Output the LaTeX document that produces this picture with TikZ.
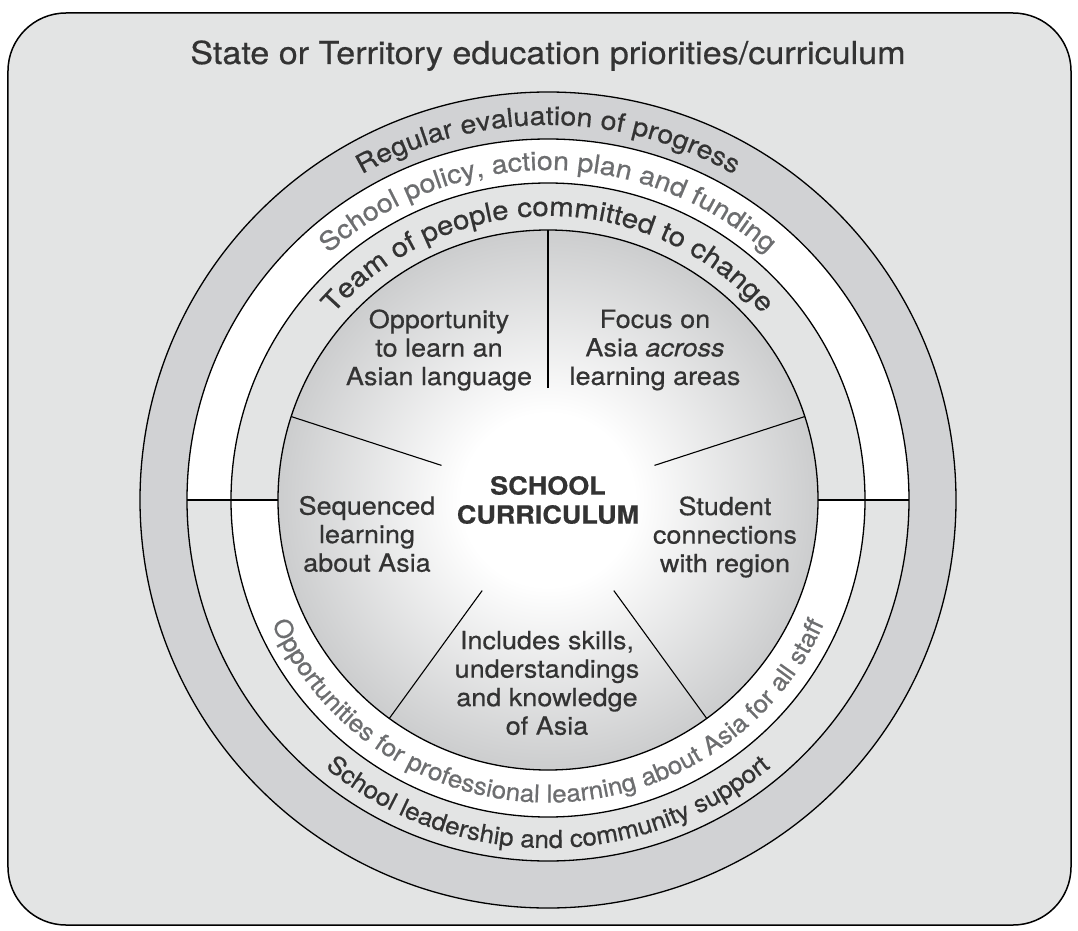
\documentclass[tikz,border=0pt]{standalone}
\usepackage{fontspec}
\setmainfont{TeX Gyre Heros}[FakeStretch=1.08, FakeBold=0.5]
\newfontfamily\topfam{TeX Gyre Heros}[FakeStretch=1.1, FakeBold=0.5]
\newfontfamily\botfam{TeX Gyre Heros}[FakeStretch=1.06, FakeBold=0.5]
\usetikzlibrary{decorations.text}
\definecolor{bgc}{RGB}{227,228,228}
\definecolor{ringc}{RGB}{209,210,212}
\definecolor{darktxt}{RGB}{51,51,51}
\definecolor{graytxt}{RGB}{109,110,112}
\definecolor{discedge}{RGB}{204,205,206}
\pgfdeclareradialshading{discshade}{\pgfpoint{0bp}{0bp}}{color(0bp)=(white); color(8bp)=(white); color(25bp)=(discedge); color(50bp)=(discedge)}
\newcommand\lblfont{\fontsize{25}{28.5}\selectfont}
\newcommand\arctopdark{\color{darktxt}\topfam\fontsize{26}{30}\selectfont}
\newcommand\arcteamdark{\color{darktxt}\topfam\fontsize{26.8}{30}\selectfont}
\newcommand\arctopgray{\color{graytxt}\topfam\fontsize{26}{30}\selectfont}
\newcommand\arcbotdark{\color{darktxt}\botfam\fontsize{24.5}{28}\selectfont}
\newcommand\arcbotgray{\color{graytxt}\botfam\fontsize{24.5}{28}\selectfont}
\begin{document}
\begin{tikzpicture}[x=1pt,y=1pt,
  lbl/.style={font=\lblfont, text=darktxt, align=center, inner sep=0pt},
  ringline/.style={draw=black, line width=1.3pt},
  divider/.style={draw=black, line width=1.1pt},
  arctext/.style={decorate, decoration={text along path, text align=center, text={#1}}}
]
\useasboundingbox (-548,-430) rectangle (530,500);
\draw[fill=bgc, line width=1.5pt, rounded corners=58pt] (-540,-425) rectangle (523,487);
\node[font=\fontsize{31.6}{35}\selectfont, text=darktxt, anchor=base] (title) at (0,436) {State or Territory education priorities/curriculum};

% rings
\fill[ringc] (0,0) circle[radius=408];
\fill[bgc] (0,0) circle[radius=361];
\fill[white] (361,0) arc[start angle=0,end angle=180,radius=361] -- cycle;
\fill[white] (0,0) circle[radius=317];
\fill[bgc] (317,0) arc[start angle=0,end angle=180,radius=317] -- cycle;
\shade[shading=discshade] (0,0) circle[radius=270];
\foreach \r in {408,361,317,270} \draw[ringline] (0,0) circle[radius=\r];

% horizontal dividers in the rings
\coordinate (hl1) at (-361,0);
\coordinate (hl2) at (-270,0);
\coordinate (hr1) at (270,0);
\coordinate (hr2) at (361,0);
\draw[divider] (hl1) -- (hl2);
\draw[divider] (hr1) -- (hr2);

% sector lines
\foreach \a [count=\i] in {90,162,234,306,18} {
  \coordinate (s\i a) at (\a:112);
  \coordinate (s\i b) at (\a:270);
  \draw[divider] (s\i a) -- (s\i b);
}

% curved texts
\path[arctext={|\arctopdark|Regular evaluation of progress}] (150:375) arc[start angle=150,end angle=30,radius=375];
\path[arctext={|\arctopgray|School policy, action plan and funding}] (155:330) arc[start angle=155,end angle=25,radius=330];
\path[arctext={|\arcteamdark|Team of people committed to change}] (165:284) arc[start angle=165,end angle=15,radius=284];
\path[arctext={|\arcbotgray|Opportunities for professional learning about Asia for all staff}] (195:302.5) arc[start angle=195,end angle=345,radius=302.5];
\path[arctext={|\arcbotdark|School leadership and community support}] (215:348) arc[start angle=215,end angle=325,radius=348];

% sector labels
\node[lbl] (opp) at (-109,150) {Opportunity\\to learn an\\Asian language};
\node[lbl] (focus) at (107,150) {Focus on\\Asia \textit{across}\\learning areas};
\node[lbl, font=\bfseries\fontsize{25}{29}\selectfont] (sc) at (0,0) {SCHOOL\\CURRICULUM};
\node[lbl] (seq) at (-181,-34) {Sequenced\\learning\\about Asia};
\node[lbl] (stu) at (177,-37) {Student\\connections\\with region};
\node[lbl] (inc) at (-1,-183) {Includes skills,\\understandings\\and knowledge\\of Asia};
\end{tikzpicture}
\end{document}
